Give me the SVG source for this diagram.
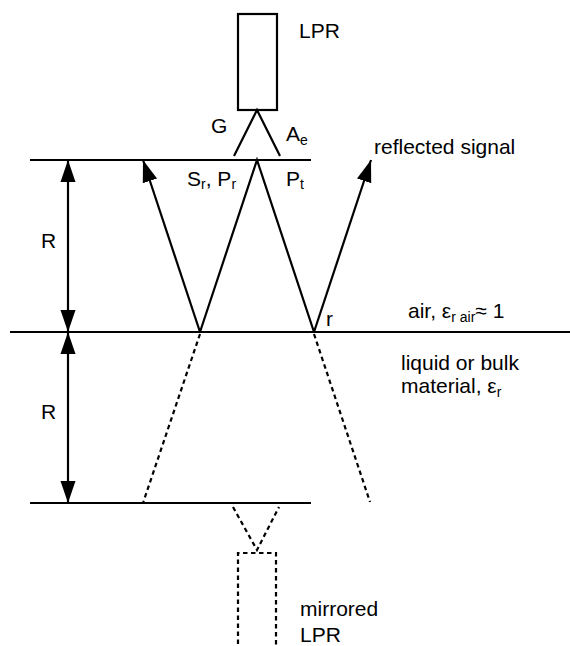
<svg xmlns="http://www.w3.org/2000/svg" width="570" height="646" viewBox="0 0 570 646">
<style>
.ln{stroke:#000;stroke-width:2.2;fill:none}
.dl{stroke:#000;stroke-width:2.2;fill:none;stroke-dasharray:4.5,3.5}
text{font-family:"Liberation Sans",Arial,sans-serif;font-size:21px;fill:#000}
.sub{font-size:14px}
</style>
<defs>
<marker id="ah" markerUnits="userSpaceOnUse" markerWidth="22" markerHeight="16" refX="22" refY="7.5" orient="auto-start-reverse" viewBox="0 0 22 15">
<path d="M0,0 L22,7.5 L0,15 z" fill="#000"/>
</marker>
</defs>
<rect width="570" height="646" fill="#fff"/>
<g id="levels">
<line class="ln" x1="30" y1="160" x2="311" y2="160"/>
<line class="ln" x1="10" y1="332" x2="570" y2="332"/>
<line class="ln" x1="30" y1="503" x2="311" y2="503"/>
</g>
<g id="lpr">
<rect class="ln" x="238" y="14" width="39" height="96"/>
<polyline class="ln" points="234,156 257,110 280,156"/>
<text x="299" y="38">LPR</text>
<text x="211" y="133">G</text>
<text x="286" y="141">A<tspan class="sub" dy="4">e</tspan></text>
<text x="187" y="186">S<tspan class="sub" dy="3">r</tspan><tspan dy="-3">, P</tspan><tspan class="sub" dy="3">r</tspan></text>
<text x="286" y="186">P<tspan class="sub" dy="3">t</tspan></text>
</g>
<g id="mirrored-lpr">
<polyline class="dl" points="233,507 257,550 279,507"/>
<polyline class="dl" points="238,660 238,553 276,553 276,660"/>
<text x="300" y="616">mirrored</text>
<text x="300" y="642">LPR</text>
</g>
<g id="connectors">
<line class="ln" x1="68" y1="160" x2="68" y2="332" marker-start="url(#ah)" marker-end="url(#ah)"/>
<line class="ln" x1="68" y1="332" x2="68" y2="503" marker-start="url(#ah)" marker-end="url(#ah)"/>
<line class="ln" x1="200" y1="332" x2="143" y2="160" marker-end="url(#ah)"/>
<polyline class="ln" points="200,332 257,160 314,332"/>
<line class="ln" x1="314" y1="332" x2="371" y2="160" marker-end="url(#ah)"/>
<line class="dl" x1="200" y1="334" x2="143" y2="503"/>
<line class="dl" x1="314" y1="334" x2="370" y2="502"/>
</g>
<g id="labels">
<text x="41" y="248">R</text>
<text x="41" y="419">R</text>
<text x="374" y="154">reflected signal</text>
<text x="326" y="326">r</text>
<text x="408" y="318">air, ε<tspan class="sub" dy="4">r air</tspan><tspan dy="-4">≈ 1</tspan></text>
<text x="401" y="370">liquid or bulk</text>
<text x="401" y="393">material, ε<tspan class="sub" dy="4">r</tspan></text>
</g>
</svg>
